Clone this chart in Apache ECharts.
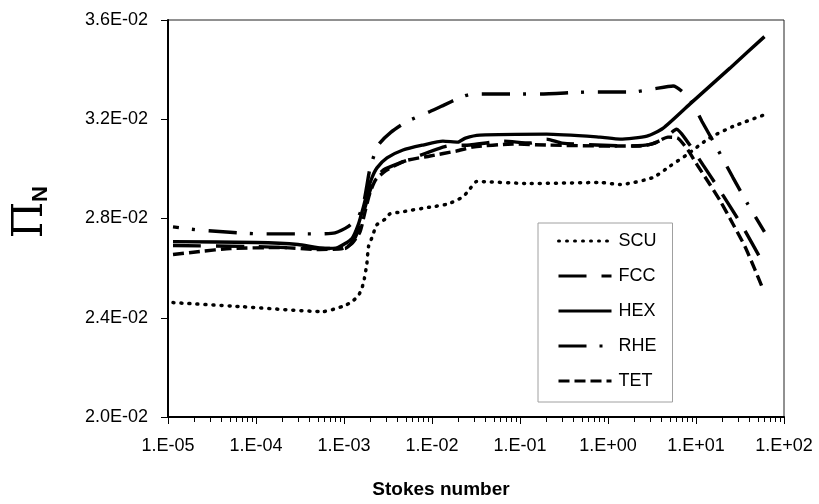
<!DOCTYPE html>
<html>
<head>
<meta charset="utf-8">
<script src="https://cdn.jsdelivr.net/npm/echarts@6/dist/echarts.min.js"></script>
<style>html,body{margin:0;padding:0;background:#fff;}#c{width:819px;height:504px;}</style>
</head>
<body>
<div id="c"></div>
<script>
// ---- data ----
const seriesNames = ['SCU', 'FCC', 'HEX', 'RHE', 'TET'];
const xTickLabels = ['1.E-05', '1.E-04', '1.E-03', '1.E-02', '1.E-01', '1.E+00', '1.E+01', '1.E+02'];
const yTickLabels = ['2.0E-02', '2.4E-02', '2.8E-02', '3.2E-02', '3.6E-02'];

const scuX = [1.14e-5, 6.6e-5, 5.8e-4, 1.02e-3, 1.23e-3, 1.45e-3, 1.6e-3, 1.7e-3, 1.82e-3, 1.9e-3, 2.1e-3, 2.35e-3, 2.95e-3, 3.3e-3, 4.4e-3, 9.5e-3, 1.5e-2, 2.2e-2, 2.5e-2, 2.95e-2, 3.2e-2, 0.13, 0.81, 1.37, 3.24, 5.1, 7.8, 14.2, 26.3, 60];
const scuY = [0.02461, 0.02445, 0.02425, 0.02449, 0.02465, 0.02488, 0.02520, 0.02556, 0.02619, 0.02687, 0.02727, 0.02774, 0.02798, 0.02818, 0.02826, 0.02846, 0.02858, 0.02885, 0.02905, 0.02937, 0.02949, 0.02941, 0.02945, 0.02937, 0.02965, 0.03012, 0.03056, 0.03124, 0.03171, 0.03218];

const fccX = [1.14e-5, 1e-4, 5.3e-4, 1.02e-3, 1.23e-3, 1.45e-3, 1.7e-3, 1.98e-3, 2.3e-3, 2.95e-3, 6.1e-3, 1.48e-2, 2.7e-2, 6.4e-2, 0.13, 0.2, 0.3, 1.78, 3.1, 4.45, 6.0, 8.5, 12, 18.7, 34, 60];
const fccY = [0.02691, 0.02687, 0.02679, 0.02679, 0.02703, 0.02750, 0.02834, 0.02913, 0.02965, 0.03000, 0.03044, 0.03092, 0.03096, 0.03112, 0.03104, 0.03120, 0.03104, 0.03092, 0.03100, 0.03124, 0.03160, 0.03096, 0.03016, 0.02913, 0.02766, 0.02610];

const hexX = [1.14e-5, 1e-4, 3.0e-4, 6.1e-4, 8.5e-4, 1.23e-3, 1.45e-3, 1.66e-3, 1.87e-3, 2.08e-3, 2.37e-3, 3.08e-3, 4.68e-3, 7.9e-3, 1.33e-2, 1.97e-2, 2.4e-2, 3.5e-2, 0.2, 0.81, 1.37, 2.77, 4.2, 8.5, 24.3, 60];
const hexY = [0.02707, 0.02703, 0.02695, 0.02679, 0.02683, 0.02719, 0.02774, 0.02846, 0.02917, 0.02965, 0.03004, 0.03044, 0.03076, 0.03096, 0.03112, 0.03108, 0.03124, 0.03136, 0.03140, 0.03128, 0.03120, 0.03132, 0.03163, 0.03261, 0.03406, 0.03533];

const rheX = [1.14e-5, 2.2e-5, 1.17e-4, 5.1e-4, 7.9e-4, 1.1e-3, 1.45e-3, 1.66e-3, 1.82e-3, 1.98e-3, 2.45e-3, 3.4e-3, 5.2e-3, 9.5e-3, 1.33e-2, 2.1e-2, 2.9e-2, 0.17, 0.62, 1.9, 3.25, 5.5, 8.5, 11.7, 17.3, 26.3, 38.8, 60];
const rheY = [0.02766, 0.02754, 0.02738, 0.02738, 0.02742, 0.02766, 0.02806, 0.02858, 0.02933, 0.03004, 0.03096, 0.03147, 0.03191, 0.03231, 0.03255, 0.03288, 0.03302, 0.03302, 0.03310, 0.03310, 0.03322, 0.03334, 0.03282, 0.03191, 0.03084, 0.02965, 0.02858, 0.02746];

const tetX = [1.14e-5, 2.3e-5, 5.1e-5, 1.87e-4, 5.3e-4, 9.6e-4, 1.23e-3, 1.52e-3, 1.73e-3, 1.98e-3, 2.3e-3, 3.0e-3, 4.9e-3, 9.5e-3, 1.9e-2, 2.9e-2, 8.3e-2, 0.2, 1.14, 2.3, 3.4, 4.8, 6.2, 8.1, 10.3, 14.4, 18.7, 26.3, 36, 46.5, 57];
const tetY = [0.02655, 0.02667, 0.02679, 0.02683, 0.02675, 0.02679, 0.02699, 0.02746, 0.02826, 0.02905, 0.02957, 0.02993, 0.03032, 0.03052, 0.03072, 0.03088, 0.03100, 0.03096, 0.03092, 0.03092, 0.03104, 0.03128, 0.03124, 0.03076, 0.03016, 0.02937, 0.02873, 0.02778, 0.02687, 0.02596, 0.02520];

// minor tick positions of the log axis (2..9 x each decade)
const minorTicks = [];
for (let d = -5; d < 2; d++) { for (let m = 2; m <= 9; m++) minorTicks.push(m * Math.pow(10, d)); }

const pairs = (xs, ys) => xs.map((x, i) => [x, ys[i]]);
const dashes = {
  SCU: { type: [1, 7], cap: 'round', width: 3.5 },
  FCC: { type: [28, 15], cap: 'butt', width: 3.4 },
  HEX: { type: 'solid', cap: 'butt', width: 3.4 },
  RHE: { type: [28, 13, 3, 14], dashOffset: 22, cap: 'butt', width: 3.4 },
  TET: { type: [11, 5], cap: 'butt', width: 3.4 }
};
const dataMap = { SCU: pairs(scuX, scuY), FCC: pairs(fccX, fccY), HEX: pairs(hexX, hexY), RHE: pairs(rheX, rheY), TET: pairs(tetX, tetY) };

const chart = echarts.init(document.getElementById('c'), null, { renderer: 'canvas' });
const lineSeries = seriesNames.map(n => ({
  name: n,
  type: 'line',
  data: dataMap[n],
  symbol: 'none',
  legendIcon: 'none',
  smooth: 0.2,
  lineStyle: Object.assign({ color: '#000' }, dashes[n]),
  itemStyle: { color: '#000' },
  z: 3
}));

const option = {
  animation: false,
  backgroundColor: '#fff',
  grid: { left: 168, right: 35, top: 20, bottom: 81, show: true, borderColor: '#222', borderWidth: 1, backgroundColor: 'transparent' },
  legend: {
    data: seriesNames,
    orient: 'vertical',
    left: 538,
    top: 223,
    itemWidth: 53,
    itemHeight: 14,
    itemGap: 17,
    padding: [9, 16, 12, 19],
    backgroundColor: '#fff',
    borderColor: '#a0a0a0',
    borderWidth: 1,
    textStyle: { fontFamily: 'Liberation Sans', fontSize: 18, color: '#000', padding: [0, 0, 0, 2] },
    itemStyle: { opacity: 0 },
    lineStyle: { width: 3, opacity: 1, dashOffset: 0 }
  },
  xAxis: {
    type: 'log',
    logBase: 10,
    min: 1e-5,
    max: 100,
    splitNumber: 7,
    name: 'Stokes number',
    nameLocation: 'middle',
    nameGap: 63,
    nameTextStyle: { fontFamily: 'Liberation Sans', fontSize: 19, fontWeight: 'bold', color: '#000', padding: [0, 70, 0, 0] },
    axisLine: { show: true, lineStyle: { color: '#000', width: 2 } },
    axisTick: { show: true, inside: false, length: 7, lineStyle: { color: '#000', width: 1 } },
    minorTick: { show: false },
    splitLine: { show: false },
    axisLabel: {
      fontFamily: 'Liberation Sans', fontSize: 18, color: '#000', margin: 20,
      formatter: v => xTickLabels[Math.round(Math.log10(v)) + 5] || ''
    }
  },
  yAxis: {
    type: 'value',
    min: 0.020,
    max: 0.036,
    interval: 0.004,
    axisLine: { show: true, lineStyle: { color: '#000', width: 2 } },
    axisTick: { show: true, inside: false, length: 7, lineStyle: { color: '#000', width: 1 } },
    splitLine: { show: false },
    axisLabel: {
      fontFamily: 'Liberation Sans', fontSize: 18, color: '#000', margin: 20,
      formatter: v => yTickLabels[Math.round((v - 0.020) / 0.004)] || ''
    }
  },
  graphic: [
    { type: 'text', x: 31, y: 220, rotation: Math.PI / 2, style: { text: 'Π', fontFamily: 'DejaVu Serif', fontSize: 42, fill: '#000', align: 'center', verticalAlign: 'middle' } },
    { type: 'text', x: 41, y: 194, rotation: Math.PI / 2, style: { text: 'N', fontFamily: 'Liberation Sans', fontWeight: 'bold', fontSize: 22, fill: '#000', align: 'center', verticalAlign: 'middle' } }
  ],
  series: lineSeries.concat([{
    type: 'custom',
    name: 'minor',
    silent: true,
    clip: false,
    z: 5,
    data: minorTicks.map(v => [v, 0.020]),
    renderItem: (params, api) => {
      const p = api.coord([api.value(0), api.value(1)]);
      const x = Math.round(p[0]) + 0.5;
      return { type: 'line', shape: { x1: x, y1: p[1], x2: x, y2: p[1] + 5 }, style: { stroke: '#000', lineWidth: 1 } };
    }
  }])
};
chart.setOption(option);
</script>
</body>
</html>
